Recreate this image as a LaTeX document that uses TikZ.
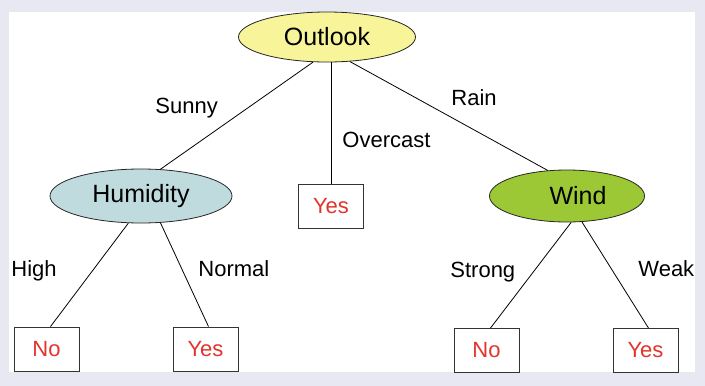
\documentclass[tikz,border=0pt]{standalone}
\usepackage{fontspec}
\setmainfont{Liberation Sans}
\usetikzlibrary{shapes,calc}

\definecolor{pagebg}{RGB}{232,232,242}
\definecolor{outlookfill}{RGB}{247,244,154}
\definecolor{humidfill}{RGB}{191,219,222}
\definecolor{windfill}{RGB}{155,200,52}
\definecolor{leafred}{RGB}{226,52,45}

\tikzset{
  attr/.style={draw=black!85, ellipse, inner sep=0pt, font=\fontsize{25}{30}\selectfont},
  leaf/.style={draw=black!80, line width=0.9pt, minimum width=65pt, minimum height=44pt, text=leafred, font=\fontsize{22}{26}\selectfont},
  branch/.style={anchor=base west, inner sep=0pt, font=\fontsize{22}{26}\selectfont},
}

\begin{document}
\begin{tikzpicture}[x=1pt,y=-1pt,line width=0.8pt]
  % Frame
  \fill[pagebg] (0,0) rectangle (705,386);
  \fill[white] (9,12) rectangle (695,372);
  % Nodes
  \node[attr, fill=outlookfill, minimum width=177pt, minimum height=50pt](Outlook) at (327,37){Outlook};
  \node[attr, fill=humidfill, minimum width=182pt, minimum height=54pt](Humidity) at (141,196){Humidity};
  \node[attr, fill=windfill, minimum width=155pt, minimum height=52pt](Wind) at (567,196){\hspace*{22pt}Wind};
  \node[leaf](Yes1) at (331,206){Yes};
  \node[leaf](No1) at (46.5,349){No};
  \node[leaf](Yes2) at (205.5,349){Yes};
  \node[leaf](No2) at (486.5,350.5){No};
  \node[leaf](Yes3) at (645.5,350.5){Yes};
  % Edges
  \draw (Outlook.241) -- (Humidity.54);
  \draw (Yes1.north |- Outlook.south) -- (Yes1.north);
  \draw (Outlook.313) -- (Wind.127);
  \draw (Humidity.245) -- ([xshift=4pt]No1.north);
  \draw (Humidity.306) -- ([xshift=3pt]Yes2.north);
  \draw (Wind.279) -- ([xshift=4pt]No2.north);
  \draw (Wind.300) -- ([xshift=3pt]Yes3.north);
  % Branch labels
  \node[branch](Sunny) at (155,113){Sunny};
  \node[branch](Overcast) at (342,147){Overcast};
  \node[branch](Rain) at (451,105){Rain};
  \node[branch](High) at (11,276){High};
  \node[branch](Normal) at (198,276){Normal};
  \node[branch](Strong) at (450,277){Strong};
  \node[branch](Weak) at (638,276){Weak};
\end{tikzpicture}
\end{document}
